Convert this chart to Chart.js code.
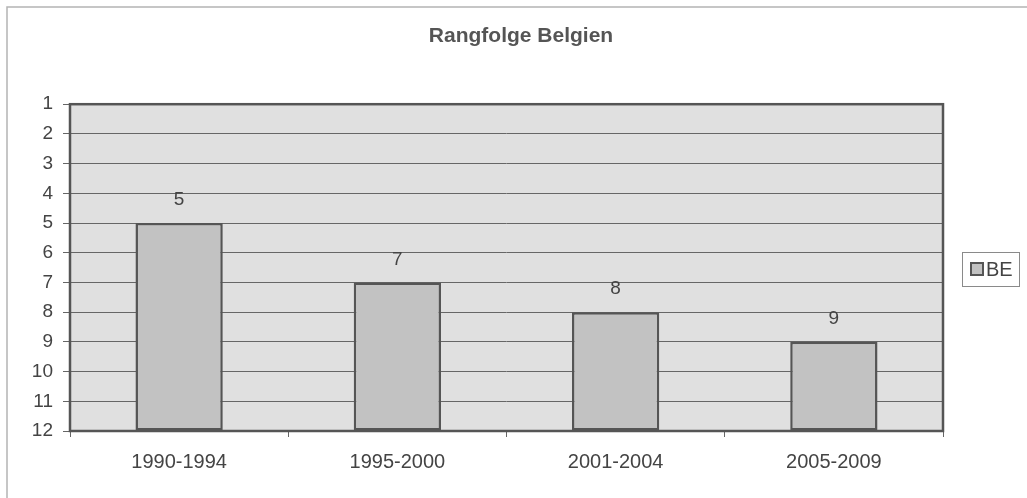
<!DOCTYPE html>
<html>
<head>
<meta charset="utf-8">
<script src="https://cdn.jsdelivr.net/npm/chart.js@4/dist/chart.umd.min.js"></script>
<style>
html,body{margin:0;padding:0;background:#fff;}
#wrap{width:1027px;height:498px;position:relative;}
</style>
</head>
<body>
<div id="wrap"><canvas id="c" width="1027" height="498"></canvas></div>
<script>
const chartTitle = 'Rangfolge Belgien';
const categories = ['1990-1994', '1995-2000', '2001-2004', '2005-2009'];
const seriesName = 'BE';
const rankBE = [5, 7, 8, 9];
const yTickValues = [1, 2, 3, 4, 5, 6, 7, 8, 9, 10, 11, 12];

const FONT = "'Liberation Sans', Arial, sans-serif";
const TEXT = '#444444';
const BAR_FILL = '#c2c2c2';
const BAR_EDGE = '#555555';

const decor = {
  id: 'decor',
  beforeDraw(chart) {
    const ctx = chart.ctx, a = chart.chartArea;
    ctx.save();
    ctx.fillStyle = '#ffffff';
    ctx.fillRect(0, 0, chart.width, chart.height);
    // outer frame (top + left)
    ctx.strokeStyle = '#b4b4b4';
    ctx.lineWidth = 1.5;
    ctx.beginPath();
    ctx.moveTo(7, chart.height);
    ctx.lineTo(7, 7);
    ctx.lineTo(chart.width, 7);
    ctx.stroke();
    // plot background
    ctx.fillStyle = '#e0e0e0';
    ctx.fillRect(a.left, a.top, a.right - a.left, a.bottom - a.top);
    ctx.restore();
  },
  afterDatasetsDraw(chart) {
    const ctx = chart.ctx, a = chart.chartArea;
    ctx.save();
    // plot border
    ctx.strokeStyle = '#555555';
    ctx.lineWidth = 2.5;
    ctx.strokeRect(a.left, a.top, a.right - a.left, a.bottom - a.top);
    // data labels
    const meta = chart.getDatasetMeta(0);
    ctx.fillStyle = TEXT;
    ctx.font = '19px ' + FONT;
    ctx.textAlign = 'center';
    ctx.textBaseline = 'middle';
    meta.data.forEach((bar, i) => {
      ctx.fillText(String(chart.data.datasets[0].data[i]), bar.x, bar.y - 23);
    });
    // legend
    const lx = 962, ly = 252, lw = 57, lh = 34;
    ctx.strokeStyle = '#8a8a8a';
    ctx.lineWidth = 1;
    ctx.strokeRect(lx + 0.5, ly + 0.5, lw, lh);
    ctx.fillStyle = BAR_FILL;
    ctx.fillRect(lx + 9, ly + 11, 12, 12);
    ctx.strokeStyle = BAR_EDGE;
    ctx.lineWidth = 2;
    ctx.strokeRect(lx + 9, ly + 11, 12, 12);
    ctx.fillStyle = TEXT;
    ctx.font = '20px ' + FONT;
    ctx.textAlign = 'left';
    ctx.textBaseline = 'middle';
    ctx.fillText(seriesName, lx + 24, ly + 18);
    ctx.restore();
  }
};

new Chart(document.getElementById('c'), {
  type: 'bar',
  data: {
    labels: categories,
    datasets: [{
      label: seriesName,
      data: rankBE,
      base: 12,
      backgroundColor: BAR_FILL,
      borderColor: BAR_EDGE,
      borderWidth: 2.5,
      borderSkipped: false,
      categoryPercentage: 0.8,
      barPercentage: 0.5
    }]
  },
  options: {
    responsive: false,
    animation: false,
    devicePixelRatio: 1,
    layout: { padding: { left: 15, right: 0, top: 0, bottom: 7 } },
    plugins: {
      legend: { display: false },
      tooltip: { enabled: false },
      title: {
        display: true,
        text: chartTitle,
        color: '#555555',
        font: { family: FONT, size: 21, weight: 'bold', lineHeight: 1.2 },
        padding: { top: 24, bottom: 55 }
      }
    },
    scales: {
      x: {
        offset: true,
        grid: { offset: true, drawOnChartArea: false, drawTicks: true, tickLength: 6, color: '#666666', lineWidth: 1 },
        border: { display: false },
        ticks: { color: TEXT, font: { family: FONT, size: 20 }, padding: 13, maxRotation: 0 },
        afterFit(s) { s.height = 60; }
      },
      y: {
        reverse: true,
        min: 1,
        max: 12,
        afterBuildTicks(s) { s.ticks = yTickValues.map(v => ({ value: v })); },
        grid: { color: '#666666', lineWidth: 1, tickLength: 7 },
        border: { display: false },
        ticks: { color: TEXT, font: { family: FONT, size: 19 }, padding: 10, stepSize: 1 },
        afterFit(s) { s.width = 55; }
      },
      yR: {
        position: 'right',
        display: true,
        grid: { display: false, drawTicks: false },
        border: { display: false },
        ticks: { display: false },
        afterFit(s) { s.width = 84; }
      }
    }
  },
  plugins: [decor]
});
</script>
</body>
</html>
